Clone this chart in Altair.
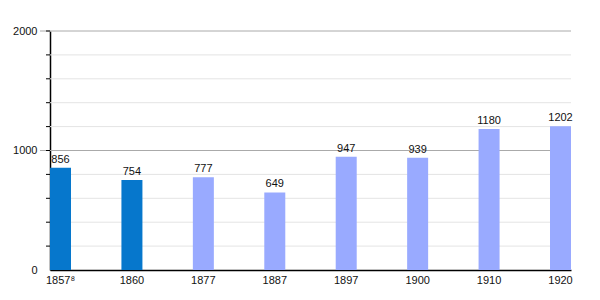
import altair as alt
import pandas as pd

years = ["1857⁸", "1860", "1877", "1887", "1897", "1900", "1910", "1920"]
values = [856, 754, 777, 649, 947, 939, 1180, 1202]
kinds = ["a", "a", "b", "b", "b", "b", "b", "b"]
minor_vals = [200, 400, 600, 800, 1200, 1400, 1600, 1800]
major_vals = [1000, 2000]
tick_vals = [200, 400, 600, 800, 1000, 1200, 1400, 1600, 1800, 2000]

df = pd.DataFrame({"year": years, "value": values, "kind": kinds})
minor_df = pd.DataFrame({"v": minor_vals})
major_df = pd.DataFrame({"v": major_vals})
ticks_df = pd.DataFrame({"v": tick_vals})

FONT = "Liberation Sans"
yscale = alt.Scale(domain=[0, 2000], nice=False)
yaxis = alt.Axis(title=None, values=[0, 1000, 2000], format="d", grid=False,
                 ticks=False, domain=True, domainColor="black",
                 domainWidth=1.5, labelPadding=13, labelFontSize=11,
                 labelFont=FONT, labelColor="#111")

def Y(field):
    return alt.Y(field, scale=yscale, axis=yaxis)

xenc = alt.X("year:N", sort=years,
             scale=alt.Scale(paddingInner=0.706, paddingOuter=0),
             axis=alt.Axis(title=None, labelAngle=0, ticks=False, domain=True,
                           domainColor="black", domainWidth=1.5, labelPadding=4,
                           labelFontSize=11, labelFont=FONT, labelColor="#111"))

minor = alt.Chart(minor_df).mark_rule(color="#e4e4e4", strokeWidth=1).encode(
    y=Y("v:Q"))
major = alt.Chart(major_df).mark_rule(color="#aaaaaa", strokeWidth=1).encode(
    y=Y("v:Q"), x=alt.value(-10), x2=alt.value(521))
mticks = alt.Chart(ticks_df).mark_rule(color="black", strokeWidth=1).encode(
    y=Y("v:Q"), x=alt.value(-4), x2=alt.value(0))

bars = alt.Chart(df).mark_bar().encode(
    x=xenc,
    y=Y("value:Q"),
    color=alt.Color("kind:N", scale=alt.Scale(domain=["a", "b"],
                                              range=["#0677cc", "#99aaff"]),
                    legend=None))

labels = alt.Chart(df).mark_text(baseline="bottom", dy=-3, fontSize=11,
                                 font=FONT, color="#111").encode(
    x=alt.X("year:N", sort=years), y=Y("value:Q"),
    text="value:Q")

chart = alt.layer(minor, major, mticks, bars, labels).properties(
    width=521, height=239,
    autosize=alt.AutoSizeParams(type="none"),
    padding={"left": 50, "top": 31, "right": 29, "bottom": 30},
).configure_view(stroke=None)

chart.save("out.html", embed_options={"renderer": "svg", "actions": False})
